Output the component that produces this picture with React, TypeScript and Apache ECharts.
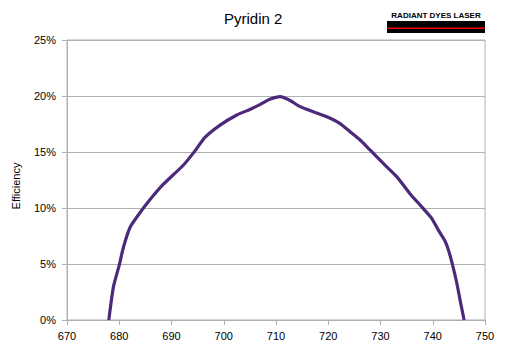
import React, { useEffect, useRef } from "react";
import * as echarts from "echarts";

const wavelengths = [678.0, 678.9, 680.0, 680.8, 682.1, 684.0, 685.9, 688.4, 692.3, 694.5, 696.4, 699.3, 702.5, 705.0, 707.0, 708.8, 710.8, 712.7, 714.6, 717.1, 719.7, 722.2, 724.2, 726.1, 728.0, 730.5, 733.1, 735.6, 737.9, 739.8, 741.1, 742.3, 743.0, 743.8, 744.6, 745.35, 746.0];
const efficiency = [0, 3.0, 4.9, 6.5, 8.3, 9.6, 10.75, 12.1, 13.84, 15.1, 16.3, 17.4, 18.3, 18.8, 19.25, 19.7, 19.94, 19.6, 19.05, 18.6, 18.15, 17.56, 16.8, 16.07, 15.18, 14.0, 12.8, 11.3, 10.1, 9.08, 8.0, 7.1, 6.25, 4.9, 3.3, 1.5, 0];
const titleText = "Pyridin 2";
const logoText = "RADIANT DYES LASER";
const yAxisName = "Efficiency";

export default function App() {
  const ref = useRef<HTMLDivElement>(null);
  useEffect(() => {
    const chart = echarts.init(ref.current!, null, { renderer: "svg" });
    const font = "'Liberation Sans', Arial, sans-serif";
    chart.setOption({
      animation: false,
      backgroundColor: "#ffffff",
      textStyle: { fontFamily: font },
      title: {
        text: titleText,
        left: 219,
        top: 6,
        textStyle: { fontFamily: font, fontSize: 15, fontWeight: "normal", color: "#000" },
      },
      graphic: [
        { type: "rect", shape: { x: 387, y: 21, width: 98, height: 12 }, style: { fill: "#000" } },
        { type: "rect", shape: { x: 387, y: 27.5, width: 98, height: 1.6 }, style: { fill: "#ff0000" } },
        {
          type: "text",
          x: 436,
          y: 15,
          style: { text: logoText, fontFamily: font, fontSize: 8, fontWeight: "bold", fill: "#000", align: "center", verticalAlign: "middle" },
        },
      ],
      grid: { left: 67, right: 24, top: 40, bottom: 33, show: true, borderColor: "#b0b0b0", borderWidth: 1 },
      xAxis: {
        type: "value",
        min: 670,
        max: 750,
        interval: 10,
        axisLine: { show: true, lineStyle: { color: "#b0b0b0" } },
        axisTick: { show: true, length: 5, lineStyle: { color: "#b0b0b0" } },
        axisLabel: { color: "#000", fontSize: 11, margin: 10, fontFamily: font },
        splitLine: { show: false },
      },
      yAxis: {
        type: "value",
        min: 0,
        max: 25,
        interval: 5,
        name: yAxisName,
        nameLocation: "middle",
        nameGap: 46,
        nameTextStyle: { color: "#000", fontSize: 11, fontFamily: font, padding: [0, 0, 0, -12] },
        axisLine: { show: true, lineStyle: { color: "#b0b0b0" } },
        axisTick: { show: true, length: 5, lineStyle: { color: "#b0b0b0" } },
        axisLabel: { color: "#000", fontSize: 11, margin: 11, fontFamily: font, formatter: (v: number) => v + "%" },
        splitLine: { show: true, lineStyle: { color: "#b0b0b0" } },
      },
      series: [
        {
          type: "line",
          data: wavelengths.map((w, i) => [w, efficiency[i]]),
          showSymbol: false,
          smooth: 0.2,
          lineStyle: { color: "#4b2a7b", width: 3.2 },
        },
      ],
    });
    return () => chart.dispose();
  }, []);
  return <div ref={ref} style={{ width: 509, height: 353, position: "absolute", left: 0, top: 0 }} />;
}
